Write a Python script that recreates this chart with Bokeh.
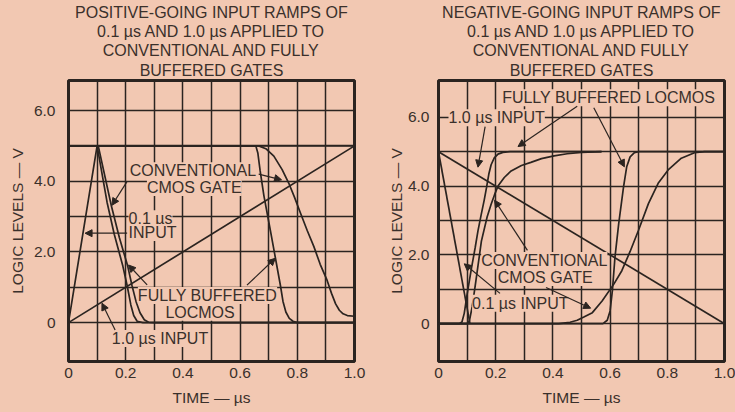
from bokeh.plotting import figure
from bokeh.layouts import row
from bokeh.models import Range1d, FixedTicker, Label, Arrow, NormalHead, PrintfTickFormatter, Title
from bokeh.embed import file_html
from bokeh.resources import INLINE

BG = "#f2c8b2"
INK = "#2b2420"
TXT = "#3a302b"
FONT = "Liberation Sans"

# ---------------- data: left panel (positive-going input) ----------------
left_title = ["POSITIVE-GOING INPUT RAMPS OF", "0.1 µs AND 1.0 µs APPLIED TO",
              "CONVENTIONAL AND FULLY", "BUFFERED GATES"]
l_in01_t = [0.0, 0.10, 1.0]
l_in01_v = [0.0, 5.0, 5.0]
l_in10_t = [0.0, 1.0]
l_in10_v = [0.0, 5.0]
l_a01_t = [0.0, 0.100, 0.135, 0.160, 0.190, 0.205, 0.218, 0.228, 0.240, 0.260, 1.0]
l_a01_v = [5.0, 5.0, 3.4, 2.5, 1.6, 1.05, 0.5, 0.2, 0.04, 0.0, 0.0]
l_b01_t = [0.0, 0.104, 0.150, 0.178, 0.207, 0.222, 0.236, 0.250, 0.265, 0.280, 0.300, 1.0]
l_b01_v = [5.0, 5.0, 3.3, 2.4, 1.6, 1.05, 0.6, 0.28, 0.08, 0.01, 0.0, 0.0]
l_fb10_t = [0.0, 0.655, 0.662, 0.670, 0.683, 0.706, 0.723, 0.741, 0.750, 0.760, 0.772, 0.785, 0.800, 1.0]
l_fb10_v = [5.0, 5.0, 4.8, 4.3, 3.6, 2.6, 1.85, 1.05, 0.6, 0.3, 0.12, 0.04, 0.0, 0.0]
l_cv10_t = [0.0, 0.665, 0.690, 0.718, 0.747, 0.770, 0.790, 0.811, 0.835, 0.858, 0.880,
            0.904, 0.920, 0.934, 0.947, 0.960, 0.975, 1.0]
l_cv10_v = [5.0, 5.0, 4.92, 4.71, 4.33, 3.95, 3.55, 3.1, 2.6, 2.15, 1.65,
            1.2, 0.82, 0.53, 0.35, 0.25, 0.2, 0.18]

# ---------------- data: right panel (negative-going input) ----------------
right_title = ["NEGATIVE-GOING INPUT RAMPS OF", "0.1 µs AND 1.0 µs APPLIED TO",
               "CONVENTIONAL AND FULLY", "BUFFERED GATES"]
r_in01_t = [0.0, 0.11]
r_in01_v = [5.0, 0.0]
r_in10_t = [0.0, 1.0]
r_in10_v = [5.0, 0.0]
r_fb01_t = [0.0, 0.072, 0.082, 0.090, 0.100, 0.115, 0.128, 0.138, 0.150, 0.160, 0.168,
            0.176, 0.184, 0.195, 0.208, 0.225, 0.250, 0.57]
r_fb01_v = [0.0, 0.0, 0.05, 0.3, 0.85, 1.6, 2.2, 2.7, 3.2, 3.6, 3.96,
            4.35, 4.62, 4.82, 4.93, 4.98, 5.0, 5.0]
r_cv01_t = [0.0, 0.100, 0.108, 0.118, 0.130, 0.150, 0.170, 0.184, 0.196, 0.208, 0.230,
            0.254, 0.290, 0.323, 0.360, 0.404, 0.450, 0.500, 0.57]
r_cv01_v = [0.0, 0.0, 0.08, 0.5, 1.2, 2.4, 3.1, 3.47, 3.75, 4.0, 4.25,
            4.44, 4.6, 4.69, 4.8, 4.88, 4.94, 4.98, 5.0]
r_fb10_t = [0.0, 0.575, 0.590, 0.600, 0.608, 0.617, 0.630, 0.647, 0.658, 0.670, 0.685, 0.700, 1.0]
r_fb10_v = [0.0, 0.0, 0.1, 0.37, 0.96, 1.93, 2.9, 3.98, 4.56, 4.85, 4.97, 5.0, 5.0]
r_cv10_t = [0.0, 0.420, 0.460, 0.485, 0.510, 0.538, 0.572, 0.613, 0.641, 0.670, 0.699,
            0.734, 0.768, 0.803, 0.849, 0.895, 0.930, 1.0]
r_cv10_v = [0.0, 0.0, 0.04, 0.1, 0.2, 0.32, 0.66, 1.15, 1.54, 2.1, 2.71,
            3.49, 4.08, 4.47, 4.81, 4.97, 5.0, 5.0]

x_grid = [0.0, 0.1, 0.2, 0.3, 0.4, 0.5, 0.6, 0.7, 0.8, 0.9, 1.0]
y_grid = [0, 1, 2, 3, 4, 5, 6]
x_ticks = [0, 0.2, 0.4, 0.6, 0.8, 1]
y_ticks = [0, 2, 4, 6]
x_label = "TIME — µs"
y_label = "LOGIC LEVELS — V"


def title_line(s, standoff):
    return Title(text=s, align="center", text_font=FONT, text_font_size="16px",
                 text_font_style="normal", text_color=TXT, standoff=standoff)


def make_fig(width, bl, br, y1, ystand, ylab_stand, title_lines):
    p = figure(width=width, height=412, x_range=Range1d(0, 1), y_range=Range1d(-1.1, y1),
               output_backend="svg", toolbar_location=None,
               min_border_left=bl, min_border_right=br, min_border_top=80, min_border_bottom=51)
    p.background_fill_color = BG
    p.border_fill_color = BG
    p.outline_line_color = INK
    p.outline_line_width = 3
    # top line is the plot's own title (outermost); others stack outward from the frame
    p.title = title_line(title_lines[0], 0)
    p.add_layout(title_line(title_lines[3], 3), "above")
    p.add_layout(title_line(title_lines[2], 0), "above")
    p.add_layout(title_line(title_lines[1], 0), "above")
    p.xgrid.ticker = FixedTicker(ticks=x_grid)
    p.ygrid.ticker = FixedTicker(ticks=y_grid)
    p.grid.grid_line_color = INK
    p.grid.grid_line_width = 1.5
    p.xaxis.ticker = FixedTicker(ticks=x_ticks)
    p.yaxis.ticker = FixedTicker(ticks=y_ticks)
    p.xaxis.formatter = PrintfTickFormatter(format="%.1f")
    p.yaxis.formatter = PrintfTickFormatter(format="%.1f")
    p.xaxis.major_label_overrides = {0: "0"}
    p.yaxis.major_label_overrides = {0: "0"}
    for ax in (p.xaxis, p.yaxis):
        ax.axis_line_color = None
        ax.major_tick_line_color = None
        ax.minor_tick_line_color = None
        ax.major_label_text_font = FONT
        ax.major_label_text_font_size = "15.5px"
        ax.major_label_text_color = TXT
        ax.axis_label_text_font = FONT
        ax.axis_label_text_font_size = "15.5px"
        ax.axis_label_text_font_style = "normal"
        ax.axis_label_text_color = TXT
    p.yaxis.axis_label = y_label
    p.xaxis.major_label_standoff = 0
    p.yaxis.major_label_standoff = ystand
    p.yaxis.axis_label_standoff = ylab_stand
    p.add_layout(Title(text=x_label, align="center", text_font=FONT, text_font_size="15.5px",
                       text_font_style="normal", text_color=TXT, standoff=12), "below")
    return p


def txt(p, x, y, s, align="center"):
    p.add_layout(Label(x=x, y=y, text=s, text_align=align, text_baseline="middle",
                       text_font=FONT, text_font_size="16px", text_color=TXT,
                       background_fill_color=BG, background_fill_alpha=1.0))


def arrow(p, x0, y0, x1, y1):
    p.add_layout(Arrow(end=NormalHead(size=7, fill_color=INK, line_color=INK, line_width=1),
                       x_start=x0, y_start=y0, x_end=x1, y_end=y1,
                       line_color=INK, line_width=1.2))


LW = 1.7

# ---------------- left ----------------
p1 = make_fig(370, 68, 16, 6.85, 7, 5, left_title)
for t, v in [(l_in01_t, l_in01_v), (l_in10_t, l_in10_v), (l_a01_t, l_a01_v),
             (l_b01_t, l_b01_v), (l_fb10_t, l_fb10_v), (l_cv10_t, l_cv10_v)]:
    p1.line(t, v, line_color=INK, line_width=LW)

txt(p1, 0.435, 4.30, "CONVENTIONAL")
txt(p1, 0.44, 3.82, "CMOS GATE")
txt(p1, 0.21, 2.94, "0.1 µs", "left")
txt(p1, 0.21, 2.55, "INPUT", "left")
txt(p1, 0.486, 0.77, "FULLY BUFFERED")
txt(p1, 0.46, 0.29, "LOCMOS")
txt(p1, 0.32, -0.45, "1.0 µs INPUT")

arrow(p1, 0.204, 3.98, 0.152, 3.32)
arrow(p1, 0.665, 4.20, 0.745, 4.04)
arrow(p1, 0.205, 2.53, 0.058, 2.53)
arrow(p1, 0.275, 1.07, 0.210, 1.63)
arrow(p1, 0.624, 1.06, 0.723, 1.82)
arrow(p1, 0.163, -0.21, 0.117, 0.55)

# ---------------- right ----------------
p2 = make_fig(365, 68, 11, 7.07, 3, 0, right_title)
for t, v in [(r_in01_t, r_in01_v), (r_in10_t, r_in10_v), (r_fb01_t, r_fb01_v),
             (r_cv01_t, r_cv01_v), (r_fb10_t, r_fb10_v), (r_cv10_t, r_cv10_v)]:
    p2.line(t, v, line_color=INK, line_width=LW)

txt(p2, 0.595, 6.57, "FULLY BUFFERED LOCMOS")
txt(p2, 0.035, 5.99, "1.0 µs INPUT", "left")
txt(p2, 0.37, 1.84, "CONVENTIONAL")
txt(p2, 0.373, 1.34, "CMOS GATE")
txt(p2, 0.286, 0.59, "0.1 µs INPUT")

arrow(p2, 0.163, 5.73, 0.138, 4.55)
arrow(p2, 0.485, 6.32, 0.278, 5.15)
arrow(p2, 0.543, 6.28, 0.650, 4.56)
arrow(p2, 0.311, 2.13, 0.196, 3.59)
arrow(p2, 0.376, 1.05, 0.532, 0.45)
arrow(p2, 0.215, 0.88, 0.090, 1.74)

layout = row(p1, p2)
html = file_html(layout, INLINE)
html = html.replace("</head>", "<style>html,body{background:%s;}</style></head>" % BG, 1)
open("out.html", "w").write(html)
